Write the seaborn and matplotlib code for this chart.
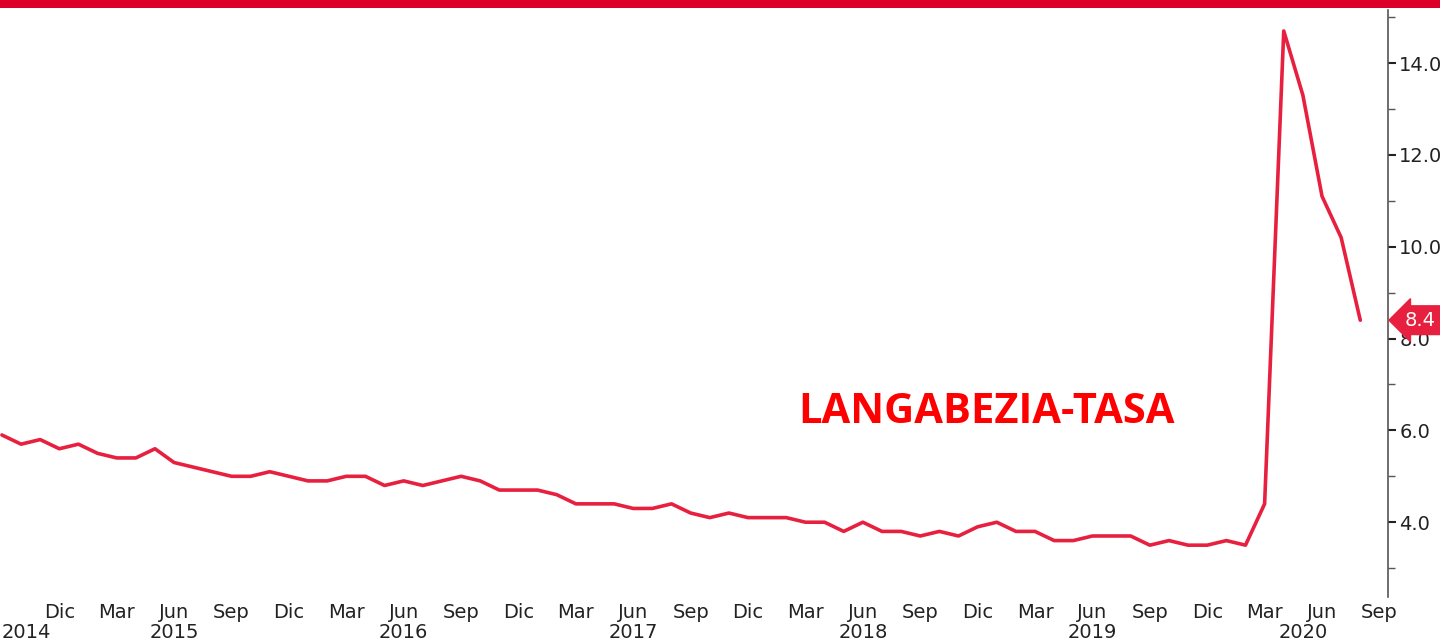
import matplotlib as mpl
mpl.use('Agg')
import matplotlib.pyplot as plt
import matplotlib.transforms as mtransforms
from matplotlib.patches import Rectangle
from matplotlib.ticker import MultipleLocator
import seaborn as sns
import numpy as np
import pandas as pd

# monthly unemployment rate, Sep 2014 .. Aug 2020
rate = [5.9, 5.7, 5.8, 5.6,
        5.7, 5.5, 5.4, 5.4, 5.6, 5.3, 5.2, 5.1, 5.0, 5.0, 5.1, 5.0,
        4.9, 4.9, 5.0, 5.0, 4.8, 4.9, 4.8, 4.9, 5.0, 4.9, 4.7, 4.7,
        4.7, 4.6, 4.4, 4.4, 4.4, 4.3, 4.3, 4.4, 4.2, 4.1, 4.2, 4.1,
        4.1, 4.1, 4.0, 4.0, 3.8, 4.0, 3.8, 3.8, 3.7, 3.8, 3.7, 3.9,
        4.0, 3.8, 3.8, 3.6, 3.6, 3.7, 3.7, 3.7, 3.5, 3.6, 3.5, 3.5,
        3.6, 3.5, 4.4, 14.7, 13.3, 11.1, 10.2, 8.4]
month_idx = list(range(len(rate)))

month_ticks = list(range(3, 73, 3))
month_names = ['Dic', 'Mar', 'Jun', 'Sep'] * 6
years = ['2014', '2015', '2016', '2017', '2018', '2019', '2020']
year_pos = [1.3, 9, 21, 33, 45, 57, 68]

df = pd.DataFrame({'mes': month_idx, 'tasa': rate})

sns.set_style('white')
plt.rcParams['font.family'] = ['DejaVu Sans']

fig = plt.figure(figsize=(14.4, 6.42), dpi=100)
ax = fig.add_axes([0.0, 0.070, 0.9639, 0.914])

line_col = '#e8203f'
sns.lineplot(data=df, x='mes', y='tasa', ax=ax, color=line_col, linewidth=2.6)

ax.set_xlim(-0.1, 72.45)
ax.set_ylim(2.37, 15.15)

for s in ['top', 'left', 'bottom']:
    ax.spines[s].set_visible(False)
ax.spines['right'].set_color('#555555')
ax.spines['right'].set_linewidth(1.2)

ax.yaxis.tick_right()
ax.yaxis.set_minor_locator(MultipleLocator(1))
ax.set_yticks([4, 6, 8, 10, 12, 14])
ax.set_yticklabels(['%.1f' % v for v in [4, 6, 8, 10, 12, 14]])
ax.tick_params(axis='y', which='major', direction='out', length=6, width=1.5,
               color='#222222', labelsize=14, labelcolor='#222222', pad=2)
ax.tick_params(axis='y', which='minor', direction='out', length=5, width=1,
               color='#555555')

ax.set_xticks(month_ticks)
ax.set_xticklabels(month_names)
ax.tick_params(axis='x', length=0, labelsize=14, labelcolor='#222222', pad=4)
ax.set_xlabel('')
ax.set_ylabel('')

trans = mtransforms.blended_transform_factory(ax.transData, ax.transAxes)
for yr, xp in zip(years, year_pos):
    ax.text(xp, -0.061, yr, transform=trans, ha='center', va='center',
            fontsize=14, color='#222222', clip_on=False)

# last value tag
ax.text(1.012, 8.4, '8.4', transform=mtransforms.blended_transform_factory(ax.transAxes, ax.transData),
        ha='left', va='center', fontsize=14, color='white', clip_on=False,
        bbox=dict(boxstyle='larrow,pad=0.25', fc=line_col, ec=line_col))

fig.text(0.685, 0.357, 'LANGABEZIA-TASA', ha='center', va='center',
         fontsize=30, fontweight='bold', color='#ff0000', family='Open Sans')

fig.patches.append(Rectangle((0, 1 - 8 / 642), 1, 8 / 642, transform=fig.transFigure,
                             facecolor='#dc0028', edgecolor='none', zorder=5))

fig.savefig('out.png', dpi=100)
